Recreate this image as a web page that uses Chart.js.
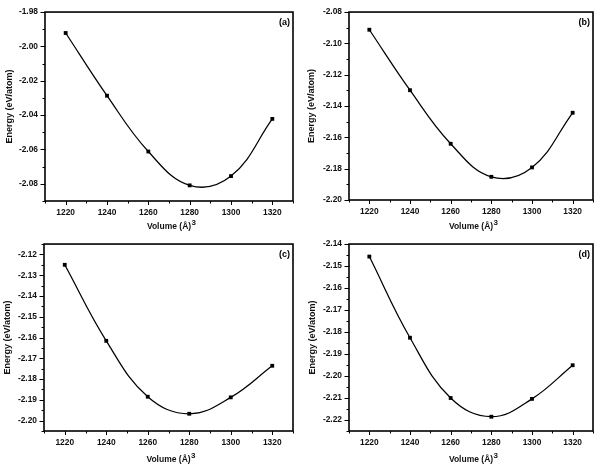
<!DOCTYPE html>
<html>
<head>
<meta charset="utf-8">
<script src="https://cdn.jsdelivr.net/npm/chart.js@4/dist/chart.umd.min.js"></script>
<style>
  html, body { margin: 0; padding: 0; background: #fff; }
  #wrap { position: relative; width: 600px; height: 465px; }
  .panel { position: absolute; }
</style>
</head>
<body>
<div id="wrap">
  <div class="panel" style="left:0;top:0"><canvas id="ca" width="300" height="232"></canvas></div>
  <div class="panel" style="left:300px;top:0"><canvas id="cb" width="300" height="232"></canvas></div>
  <div class="panel" style="left:0;top:232px"><canvas id="cc" width="300" height="233"></canvas></div>
  <div class="panel" style="left:300px;top:232px"><canvas id="cd" width="300" height="233"></canvas></div>
</div>
<script>
// ---- data ----
const volumes = [1220, 1240, 1260, 1280, 1300, 1320];
const energyA = [-1.9922, -2.0287, -2.0612, -2.0809, -2.0755, -2.0422];
const energyB = [-2.0913, -2.1299, -2.1641, -2.1852, -2.1792, -2.1443];
const energyC = [-2.1250, -2.1616, -2.1885, -2.1967, -2.1888, -2.1736];
const energyD = [-2.1457, -2.1826, -2.2100, -2.2185, -2.2104, -2.1951];
const panelLabels = ['(a)', '(b)', '(c)', '(d)'];
const xTitle = 'Volume (Å)';
const xTitleSup = '3';
const yTitle = 'Energy (eV/atom)';
const xRange = [1210, 1330];
const yRanges = [[-2.09, -1.98], [-2.20, -2.08], [-2.205, -2.115], [-2.225, -2.14]];
const yMinorSteps = [0.01, 0.01, 0.005, 0.005];

// ---- layout (pixel placement of each plot area inside its canvas) ----
const layouts = [
  { id: 'ca', left: 45, right: 294, top: 5, bottom: 201, yTitlePad: 4.6, xTitlePad: 0.4 },
  { id: 'cb', left: 49, right: 297, top: 5, bottom: 200, yTitlePad: 6.3, xTitlePad: 0 },
  { id: 'cc', left: 44, right: 294, top: 5, bottom: 199, yTitlePad: 1.9, xTitlePad: 0 },
  { id: 'cd', left: 49, right: 297, top: 5, bottom: 199, yTitlePad: 7.3, xTitlePad: 0 }
];
const seriesList = [energyA, energyB, energyC, energyD];

const FONT = "'Liberation Sans', Arial, sans-serif";
const TITLE_SIZE_X = 8.5;

const frameTicks = {
  id: 'frameTicks',
  afterDraw(chart, args, opts) {
    const ctx = chart.ctx;
    const a = chart.chartArea;
    ctx.save();
    ctx.strokeStyle = '#000';
    // ticks
    ctx.lineWidth = 1;
    const xs = chart.scales.x, ys = chart.scales.y;
    xs.ticks.forEach(t => {
      const p = Math.round(xs.getPixelForValue(t.value)) + 0.5;
      const len = t.label !== '' ? 4 : 2.5;
      ctx.beginPath(); ctx.moveTo(p, a.bottom); ctx.lineTo(p, a.bottom + len); ctx.stroke();
    });
    ys.ticks.forEach(t => {
      const p = Math.round(ys.getPixelForValue(t.value)) + 0.5;
      const len = t.label !== '' ? 4.5 : 2.5;
      ctx.beginPath(); ctx.moveTo(a.left, p); ctx.lineTo(a.left - len, p); ctx.stroke();
    });
    // frame
    ctx.lineWidth = 1.6;
    ctx.strokeRect(a.left, a.top, a.right - a.left, a.bottom - a.top);
    // panel label
    ctx.fillStyle = '#000';
    ctx.font = 'bold 9px ' + FONT;
    ctx.textAlign = 'right';
    ctx.textBaseline = 'middle';
    ctx.fillText(opts.label, a.right - 3, a.top + 10);
    // superscript of the x title
    ctx.fillStyle = '#111';
    ctx.font = 'bold ' + TITLE_SIZE_X + 'px ' + FONT;
    const tw = ctx.measureText(xTitle).width;
    const cx = (xs.left + xs.right) / 2;
    const lh = TITLE_SIZE_X * 1.2;
    const ty = xs.bottom - lh / 2 - opts.xPad;
    ctx.font = 'bold 8px ' + FONT;
    ctx.textAlign = 'left';
    ctx.fillText(xTitleSup, cx + tw / 2 + 0.5, ty - 4);
    ctx.restore();
  }
};

layouts.forEach((L, i) => {
  const canvas = document.getElementById(L.id);
  const W = canvas.width, H = canvas.height;
  const data = volumes.map((v, k) => ({ x: v, y: seriesList[i][k] }));
  const step = yMinorSteps[i];
  new Chart(canvas, {
    type: 'line',
    data: {
      datasets: [{
        data: data,
        borderColor: '#000',
        borderWidth: 1.25,
        tension: 0.4,
        pointStyle: 'rect',
        pointRadius: 2.7,
        pointBackgroundColor: '#000',
        pointBorderColor: '#000',
        pointBorderWidth: 0,
        fill: false
      }]
    },
    options: {
      responsive: false,
      animation: false,
      devicePixelRatio: 1,
      layout: { padding: { top: L.top, right: W - L.right, left: 0, bottom: 0 } },
      plugins: {
        legend: { display: false },
        tooltip: { enabled: false },
        frameTicks: { label: panelLabels[i], xPad: L.xTitlePad }
      },
      scales: {
        x: {
          type: 'linear',
          min: xRange[0], max: xRange[1],
          grid: { display: false, drawTicks: false },
          border: { display: false },
          afterFit(s) { s.height = H - L.bottom; },
          ticks: {
            stepSize: 10,
            autoSkip: false,
            maxRotation: 0,
            padding: 7,
            color: '#111',
            font: { family: FONT, size: 8.4, weight: 'bold' },
            callback: v => ((Math.round(v) - 1220) % 20 === 0 ? String(Math.round(v)) : '')
          },
          title: {
            display: true, text: xTitle, color: '#111',
            font: { family: FONT, size: TITLE_SIZE_X, weight: 'bold' },
            padding: { top: 0, bottom: L.xTitlePad }
          }
        },
        y: {
          type: 'linear',
          min: yRanges[i][0], max: yRanges[i][1],
          grid: { display: false, drawTicks: false },
          border: { display: false },
          afterFit(s) { s.width = L.left; },
          ticks: {
            stepSize: step,
            autoSkip: false,
            padding: 7,
            color: '#111',
            font: { family: FONT, size: 8.4, weight: 'bold' },
            callback: v => {
              const n = Math.round(v / step);
              return (n % 2 === 0) ? v.toFixed(2) : '';
            }
          },
          title: {
            display: true, text: yTitle, color: '#111',
            font: { family: FONT, size: 9, weight: 'bold' },
            padding: { top: L.yTitlePad, bottom: 0 }
          }
        }
      }
    },
    plugins: [frameTicks]
  });
});
</script>
</body>
</html>
